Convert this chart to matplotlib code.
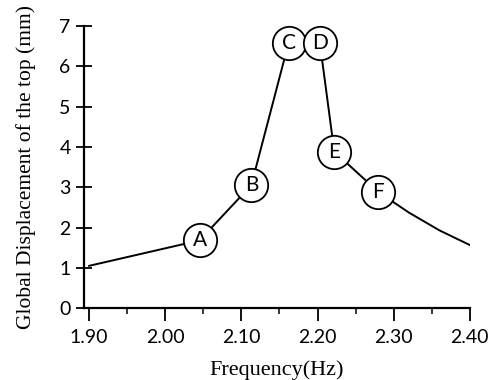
import matplotlib
matplotlib.use("Agg")
import matplotlib.pyplot as plt
from matplotlib.ticker import MultipleLocator

freq = [1.90, 2.045, 2.113, 2.162, 2.203, 2.222, 2.28, 2.32, 2.36, 2.405]
disp = [1.05, 1.68, 3.05, 6.58, 6.58, 3.88, 2.88, 2.37, 1.93, 1.52]
labels = ["A", "B", "C", "D", "E", "F"]
label_freq = [2.045, 2.113, 2.162, 2.203, 2.222, 2.28]
label_disp = [1.68, 3.05, 6.58, 6.58, 3.88, 2.88]
xticks = [1.90, 2.00, 2.10, 2.20, 2.30, 2.40]
xticklabels = ["1.90", "2.00", "2.10", "2.20", "2.30", "2.40"]
yticks = [0, 1, 2, 3, 4, 5, 6, 7]

fig = plt.figure(figsize=(4.93, 3.80), dpi=100)
ax = fig.add_axes([0.170, 0.189, 0.783, 0.743])

ax.plot(freq, disp, color="black", lw=1.4, zorder=2)
ax.plot(label_freq, label_disp, ls="none", marker="o", ms=24, mfc="white",
        mec="black", mew=1.3, zorder=3, clip_on=False)
for lab, fx, dy in zip(labels, label_freq, label_disp):
    ax.text(fx, dy, lab, ha="center", va="center", fontsize=15,
            family="Lato", zorder=4)

ax.set_xlim(1.893, 2.40)
ax.set_ylim(0, 7)
for s in ["top", "right"]:
    ax.spines[s].set_visible(False)
for s in ["left", "bottom"]:
    ax.spines[s].set_linewidth(1.6)
ax.spines["left"].set_bounds(0, 7)

ax.set_xticks(xticks)
ax.set_xticklabels(xticklabels)
ax.xaxis.set_minor_locator(MultipleLocator(0.05))
ax.set_yticks(yticks)
ax.tick_params(axis="x", which="major", direction="out", length=9, width=1.3,
               pad=6, labelsize=14)
ax.tick_params(axis="x", which="minor", direction="out", length=4, width=1.1)
ax.tick_params(axis="y", which="major", direction="inout", length=11, width=1.3,
               pad=4, labelsize=14)
for t in ax.get_xticklabels() + ax.get_yticklabels():
    t.set_family("Lato")

ax.set_xlabel("Frequency(Hz)", family="Liberation Serif", fontsize=16, labelpad=10)
ax.set_ylabel("Global Displacement of the top (mm)", family="Liberation Serif",
              fontsize=15.5, labelpad=17)

fig.savefig("out.png", dpi=100)
